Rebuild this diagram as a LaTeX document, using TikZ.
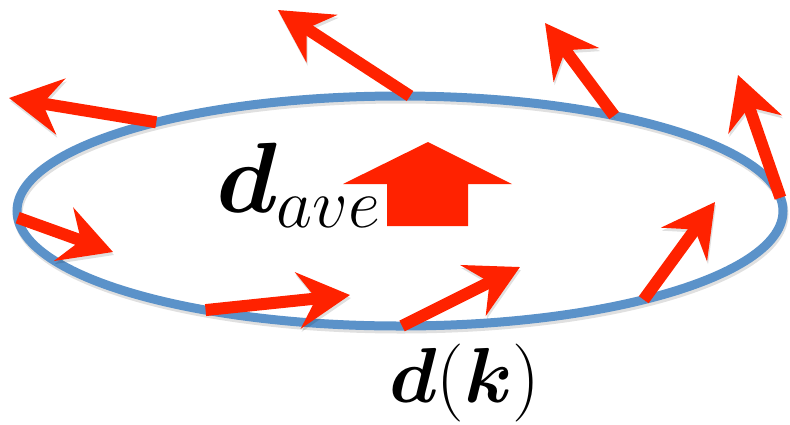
\RequirePackage{fix-cm}
\documentclass[tikz,border=0pt]{standalone}
\usepackage{bm}
\usetikzlibrary{arrows.meta, shapes.geometric}

\definecolor{ringblue}{RGB}{91,146,201}
\definecolor{spinred}{RGB}{255,34,0}

\begin{document}
\begin{tikzpicture}[%
    x=1pt, y=-1pt,
    >={Stealth[length=52pt, width=56pt, inset=18pt]},
    spin/.style={->, draw=spinred, fill=spinred, line width=12pt},
    soft/.style={preaction={draw=black, opacity=.12,
        transform canvas={shift={(1pt,-3pt)}}}},
    every node/.style={inner sep=0pt, outer sep=0pt}
]
\useasboundingbox (0,0) rectangle (790,424);

% ring of d(k) over the Brillouin zone
\node[ellipse, draw=ringblue, line width=9pt, soft,
      minimum width=766pt, minimum height=230pt] (ring) at (400,211) {};

% tips of the local vectors
\coordinate (tip1) at (9,98);
\coordinate (tip2) at (278,10);
\coordinate (tip3) at (545,23);
\coordinate (tip4) at (738,75);
\coordinate (tip5) at (113,252);
\coordinate (tip6) at (350,295);
\coordinate (tip7) at (520,267);
\coordinate (tip8) at (715,202);

% local vectors, tail on the ring
\foreach \ang [count=\i] in {160,85,24,2,181,207,271,340}
    \draw[spin, soft] (ring.\ang) -- (tip\i);

% averaged vector
\fill[spinred] (387,226) -- (387,184) -- (343,184) -- (428,142)
    -- (512,184) -- (468,184) -- (468,226) -- cycle;

\node[anchor=base west, font=\fontsize{100}{110}\selectfont] (dave)
    at (216,212) {$\bm{d}_{ave}$};
\node[anchor=base west, font=\fontsize{78}{86}\selectfont] (dk)
    at (389,402) {$\bm{d}(\bm{k})$};

\end{tikzpicture}
\end{document}
